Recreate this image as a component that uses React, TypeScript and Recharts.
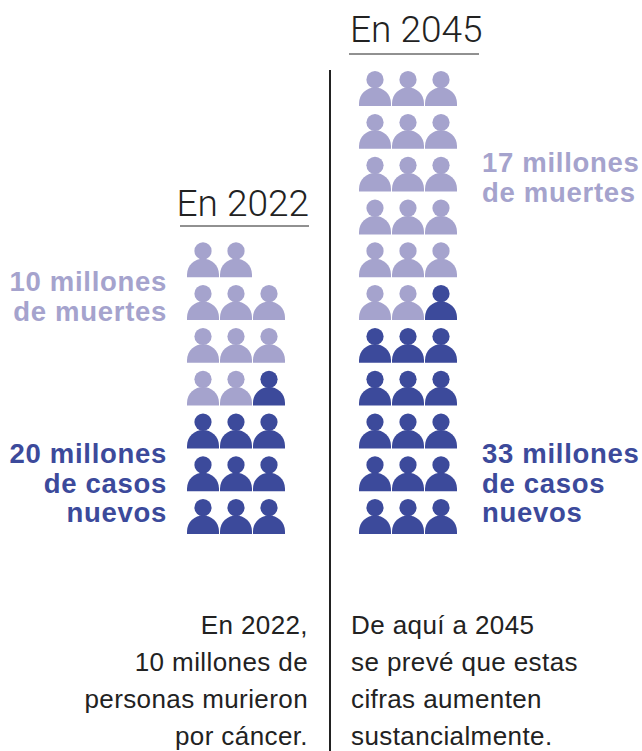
import { ScatterChart, Scatter, XAxis, YAxis, ReferenceLine } from 'recharts'

// one person = one million
const years = ['En 2022', 'En 2045']
const newCases = [20, 33]
const deaths = [10, 17]
const PER_ROW = 3

const DARK = '#3c4a9b'
const LIGHT = '#a5a3cd'
const INK = '#222222'

const WIDTH = 642
const HEIGHT = 751
const COL_PX = 33
const ROW_PX = 42.8
const BLOCK_GAP = 172 / COL_PX // distance between the two blocks, in columns

type Person = { col: number; row: number; dead: boolean }

// walk from the top row down, left to right: the deaths come first
const buildPeople = (cases: number, dead: number, block: number): Person[] => {
    const people: Person[] = []
    const rows = Math.ceil(cases / PER_ROW)
    const topRow = cases - (rows - 1) * PER_ROW
    for (let i = 0; i < cases; i++) {
        const shifted = i + PER_ROW - topRow
        people.push({
            col: block * BLOCK_GAP + (i < topRow ? i : shifted % PER_ROW),
            row: rows - 1 - Math.floor(shifted / PER_ROW),
            dead: i < dead,
        })
    }
    return people
}

const people = years.flatMap((_, i) => buildPeople(newCases[i], deaths[i], i))
const survivors = people.filter(p => !p.dead)
const dead = people.filter(p => p.dead)

const xDomain = [-203 / COL_PX, (WIDTH - 203) / COL_PX]
const yDomain = [-(HEIGHT - 516.5) / ROW_PX, 516.5 / ROW_PX]

const PersonIcon = ({ cx, cy, fill }: any) => (
    <g transform={`translate(${cx},${cy})`} fill={fill}>
        <circle cx={0} cy={-8.8} r={8.6} />
        <path d="M-16 17.5 V15 C-16 5 -8 -1 0 -1 C8 -1 16 5 16 15 V17.5 Z" />
    </g>
)

const leftLabels = [
    { lines: ['10 millones', 'de muertes'], y: 291, color: LIGHT },
    { lines: ['20 millones', 'de casos', 'nuevos'], y: 463, color: DARK },
]
const rightLabels = [
    { lines: ['17 millones', 'de muertes'], y: 172, color: LIGHT },
    { lines: ['33 millones', 'de casos', 'nuevos'], y: 463, color: DARK },
]
const leftNote = ['En 2022,', '10 millones de', 'personas murieron', 'por cáncer.']
const rightNote = ['De aquí a 2045', 'se prevé que estas', 'cifras aumenten', 'sustancialmente.']

const FONT = '"Liberation Sans", Arial, sans-serif'

const BoldLabel = ({ lines, x, y, color, anchor }: any) => (
    <>
        {lines.map((line: string, i: number) => (
            <text key={line} x={x} y={y + i * 29.5} fill={color} textAnchor={anchor} fontFamily={FONT} fontSize={27.5} fontWeight={700} letterSpacing={0.7}>
                {line}
            </text>
        ))}
    </>
)

const Note = ({ lines, x, anchor }: any) => (
    <>
        {lines.map((line: string, i: number) => (
            <text key={line} x={x} y={633.5 + i * 37.2} fill={INK} textAnchor={anchor} fontFamily={FONT} fontSize={26} letterSpacing={0.4}>
                {line}
            </text>
        ))}
    </>
)

export default function App() {
    return (
        <div style={{ position: 'absolute', left: 0, top: 0, width: WIDTH, height: HEIGHT, background: '#fff' }}>
            <ScatterChart width={WIDTH} height={HEIGHT} margin={{ top: 0, right: 0, bottom: 0, left: 0 }}>
                <XAxis type="number" dataKey="col" domain={xDomain} hide allowDataOverflow />
                <YAxis type="number" dataKey="row" domain={yDomain} hide allowDataOverflow />
                <ReferenceLine
                    segment={[{ x: 127 / COL_PX, y: yDomain[1] - 70 / ROW_PX }, { x: 127 / COL_PX, y: yDomain[0] }]}
                    stroke={INK}
                    strokeWidth={2}
                />
                <Scatter data={survivors} fill={DARK} shape={PersonIcon} isAnimationActive={false} />
                <Scatter data={dead} fill={LIGHT} shape={PersonIcon} isAnimationActive={false} />

                <text x={309} y={216} textAnchor="end" fill={INK} fontFamily="Roboto, sans-serif" fontWeight={300} fontSize={37}>{years[0]}</text>
                <line x1={180} x2={309} y1={226} y2={226} stroke={INK} strokeWidth={1} />
                <text x={350} y={42} fill={INK} fontFamily="Roboto, sans-serif" fontWeight={300} fontSize={37}>{years[1]}</text>
                <line x1={349} x2={479} y1={54} y2={54} stroke={INK} strokeWidth={1} />

                {leftLabels.map(l => <BoldLabel key={l.lines[0]} {...l} x={167} anchor="end" />)}
                {rightLabels.map(l => <BoldLabel key={l.lines[0]} {...l} x={482} anchor="start" />)}
                <Note lines={leftNote} x={308} anchor="end" />
                <Note lines={rightNote} x={351} anchor="start" />
            </ScatterChart>
        </div>
    )
}
